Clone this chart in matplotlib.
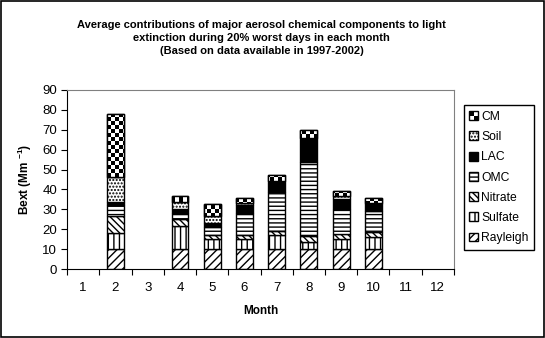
import numpy as np
import matplotlib
matplotlib.use("Agg")
import matplotlib.pyplot as plt
from matplotlib.patches import Rectangle, Patch
from matplotlib.legend_handler import HandlerPatch

plt.rcParams['font.family'] = ['Liberation Sans', 'DejaVu Sans']
plt.rcParams['mathtext.fontset'] = 'custom'
plt.rcParams['mathtext.rm'] = 'Liberation Sans:bold'
plt.rcParams['mathtext.default'] = 'rm'
plt.rcParams['hatch.linewidth'] = 1.0

months = list(range(1, 13))
components = ['Rayleigh', 'Sulfate', 'Nitrate', 'OMC', 'LAC', 'Soil', 'CM']
rayleigh = [0, 10, 0, 10, 10, 10, 10, 10, 10, 10, 0, 0]
sulfate = [0, 8.2, 0, 11.4, 4.9, 4.9, 7.2, 3.8, 5.3, 6.2, 0, 0]
nitrate = [0, 8.3, 0, 3.7, 2.2, 2.2, 2.0, 3.0, 2.4, 2.5, 0, 0]
omc = [0, 5.5, 0, 3.0, 4.2, 11.2, 19.7, 37.2, 12.7, 10.6, 0, 0]
lac = [0, 1.7, 0, 2.0, 1.7, 3.9, 5.4, 11.8, 4.7, 3.4, 0, 0]
soil = [0, 12.3, 0, 3.8, 3.6, 1.1, 0.0, 0.2, 1.7, 0.3, 0, 0]
cm = [0, 32.0, 0, 2.7, 5.9, 2.4, 2.9, 4.0, 2.3, 2.5, 0, 0]

series = [rayleigh, sulfate, nitrate, omc, lac, soil, cm]
styles = {
    'Rayleigh': dict(facecolor='white', hatch='////'),
    'Sulfate': dict(facecolor='white', hatch='|||'),
    'Nitrate': dict(facecolor='white', hatch='\\\\\\\\\\'),
    'OMC': dict(facecolor='white', hatch='----'),
    'LAC': dict(facecolor='black', hatch=None),
    'Soil': dict(facecolor='white', hatch='.....'),
    'CM': dict(facecolor='white', hatch=None),
}


class CheckerHandler(HandlerPatch):
    # small 2x2 checker square for the CM legend entry
    def create_artists(self, legend, orig_handle, xdescent, ydescent,
                       width, height, fontsize, trans):
        x0, y0 = -xdescent, -ydescent
        w2, h2 = width / 2, height / 2
        arts = [Rectangle((x0, y0), width, height, facecolor='white',
                          edgecolor='black', lw=1, transform=trans),
                Rectangle((x0, y0 + h2), w2, h2, facecolor='black',
                          edgecolor='none', transform=trans),
                Rectangle((x0 + w2, y0), w2, h2, facecolor='black',
                          edgecolor='none', transform=trans)]
        return arts


fig = plt.figure(figsize=(5.45, 3.38), dpi=100)
ax = fig.add_axes([0.123, 0.204, 0.71, 0.530])

x = np.array(months)
has_data = np.array([sum(s[i] for s in series) > 0 for i in range(12)])
xs = x[has_data]
bottom = np.zeros(len(xs))
width = 0.52
ax.set_xlim(0.5, 12.5)
ax.set_ylim(0, 90)

# checkerboard texture used for the coarse mass layer
nx, ny = 97, 45
checker = (np.add.outer(np.arange(ny), np.arange(nx)) % 2).astype(float)

for name, vals in zip(components, series):
    v = np.array(vals, dtype=float)[has_data]
    st = styles[name]
    bars = ax.bar(xs, v, width, bottom=bottom, edgecolor='black',
                  linewidth=1, zorder=2, **st)
    if name == 'CM':
        for b in bars:
            im = ax.imshow(checker, cmap='gray_r', extent=(0.5, 12.5, 0, 90),
                           aspect='auto', interpolation='nearest', zorder=2.5)
            im.set_clip_path(b)
        ax.bar(xs, v, width, bottom=bottom, fill=False, edgecolor='black',
               linewidth=1, zorder=3)
    bottom += v

ax.set_xlim(0.5, 12.5)
ax.set_ylim(0, 90)
ax.set_yticks(np.arange(0, 91, 10))
ax.set_xticks(np.arange(0.5, 13, 1))
ax.set_xticklabels([])
ax.set_xticks(x, minor=True)
ax.set_xticklabels([str(m) for m in months], minor=True)
ax.tick_params(axis='x', which='minor', length=0, labelsize=9.5, pad=9)
ax.tick_params(axis='x', which='major', length=4, direction='out')
ax.tick_params(axis='y', length=4, direction='out', labelsize=9.5, pad=3)

for side in ['top', 'right']:
    ax.spines[side].set_color('#808080')
for side in ['left', 'bottom']:
    ax.spines[side].set_color('black')

ax.set_xlabel('Month', fontsize=8.5, fontweight='bold', labelpad=8)
ax.set_ylabel(r'Bext (Mm $^{-1}$)', fontsize=8.5, fontweight='bold', labelpad=6)

fig.suptitle('Average contributions of major aerosol chemical components to light\n'
             'extinction during 20% worst days in each month\n'
             '(Based on data available in 1997-2002)',
             fontsize=8, fontweight='bold', x=0.48, y=0.94, linespacing=1.35)

handles = []
for name in components[::-1]:
    st = styles[name]
    handles.append(Patch(facecolor=st['facecolor'], hatch=st['hatch'],
                         edgecolor='black', label=name))
leg = fig.legend(handles=handles, loc='upper left',
                 bbox_to_anchor=(0.851, 0.688), fontsize=8.7,
                 handlelength=0.75, handleheight=0.75, handletextpad=0.25,
                 labelspacing=0.68, borderpad=0.45, borderaxespad=0,
                 fancybox=False, edgecolor='black', framealpha=1,
                 handler_map={handles[0]: CheckerHandler()})
leg.get_frame().set_linewidth(1)

fig.patches.append(Rectangle((0.001, 0.004), 0.997, 0.994, fill=False,
                             edgecolor='black', linewidth=1.2,
                             transform=fig.transFigure, figure=fig))

fig.savefig('out.png', dpi=100)
